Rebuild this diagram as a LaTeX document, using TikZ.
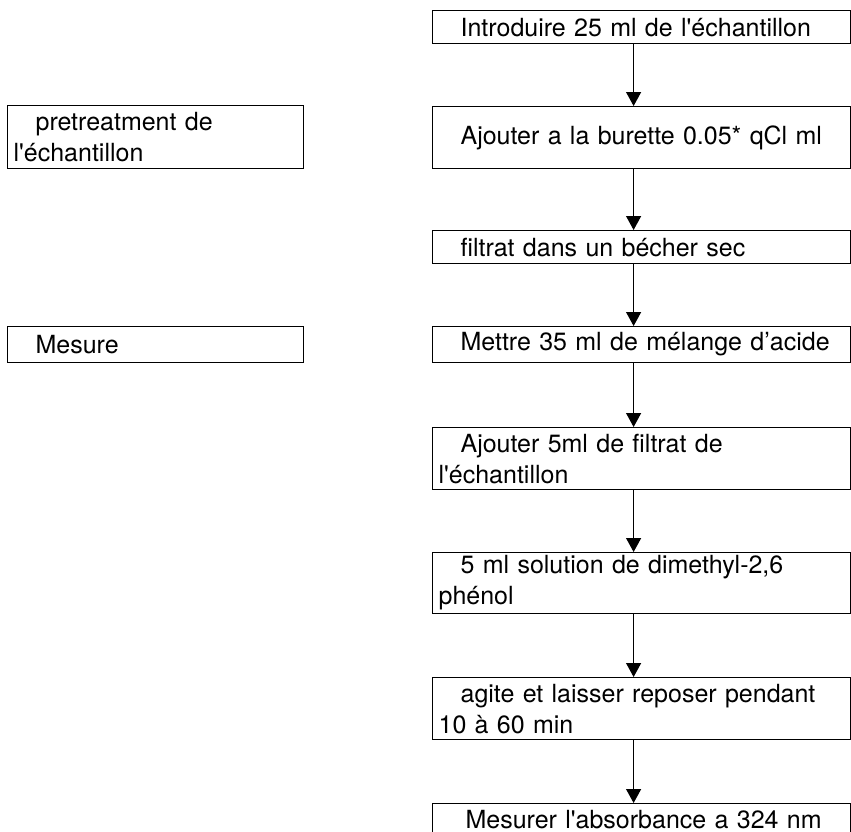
\documentclass[tikz,border=0pt]{standalone}
\usepackage{fontspec}
\setmainfont{TeX Gyre Heros}
\usetikzlibrary{positioning}
\usetikzlibrary{arrows.meta}

\tikzset{
  stepbox/.style={draw, line width=1.2pt, anchor=north west, align=left,
    inner xsep=6pt, inner ysep=0pt, text width=406pt,
    font=\fontsize{25}{31}\selectfont},
  sidebox/.style={stepbox, text width=284pt},
  flow/.style={line width=1.2pt, -{Triangle[length=14pt,width=15pt]}}
}
\newcommand{\ind}{\hspace*{22pt}}
\newcommand{\apos}{\textquotesingle}

\begin{document}
\begin{tikzpicture}[x=1pt, y=-1pt]
 \clip (0,0) rectangle (851,831);

 %steps
 \node[stepbox, minimum height=33pt] (s1) at (432,10) {\ind Introduire 25 ml de l\apos échantillon};
 \node[stepbox, minimum height=62pt] (s2) at (432,106) {\ind Ajouter a la burette 0.05* qCl ml};
 \node[stepbox, minimum height=33pt] (s3) at (432,230) {\ind filtrat dans un bécher sec};
 \node[stepbox, minimum height=36pt] (s4) at (432,326) {\ind Mettre 35 ml de mélange d’acide};
 \node[stepbox, minimum height=62pt] (s5) at (432,427) {\ind Ajouter 5ml de filtrat de\\l\apos échantillon};
 \node[stepbox, minimum height=61pt] (s6) at (432,552) {\ind 5 ml solution de dimethyl-2,6\\phénol};
 \node[stepbox, minimum height=62pt] (s7) at (432,677) {\ind agite et laisser reposer pendant\\10 à 60 min};
 \node[stepbox, minimum height=62pt] (s8) at (432,803) {\hspace*{27pt}Mesurer l\apos absorbance a 324 nm\\ \mbox{}};

 %left column
 \node[sidebox, minimum height=63pt] (pre) at (7,105) {\ind pretreatment de\\l\apos échantillon};
 \node[sidebox, minimum height=36pt] (mes) at (7,326) {\ind Mesure};

 %arrows
 \foreach \a/\b in {s1/s2, s2/s3, s3/s4, s4/s5, s5/s6, s6/s7, s7/s8} {
   \draw[flow] ([xshift=-8pt]\a.south) -- ([xshift=-8pt]\b.north);
 }
\end{tikzpicture}
\end{document}
